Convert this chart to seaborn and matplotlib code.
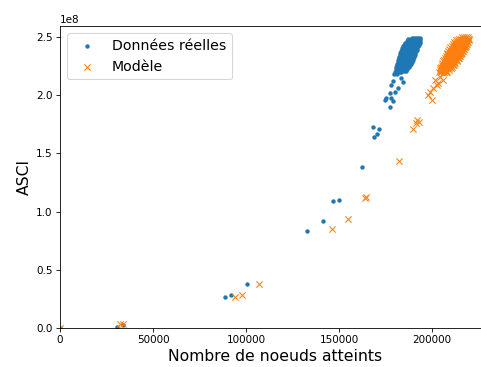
import matplotlib
matplotlib.use("Agg")
import matplotlib.pyplot as plt
import seaborn as sns
import pandas as pd

# Observed data, isolated runs: (nodes reached, ASCI in units of 1e8)
reel_x = [0, 30480, 34030, 88710, 91780, 100380, 132950, 141400, 146940, 150000,
          162200, 168280, 171500, 170160, 168550,
          174570, 175430, 178120, 177260, 177260, 179950, 178120, 181720, 179030,
          183490, 184410, 178820]
reel_y = [0.0, 0.011, 0.026, 0.264, 0.284, 0.378, 0.833, 0.919, 1.088, 1.102,
          1.381, 1.723, 1.705, 1.667, 1.641,
          1.959, 1.973, 1.973, 1.901, 2.016, 2.030, 2.088, 2.059, 2.122,
          2.145, 2.116, 1.950]

# Observed data, dense group of runs: one ASCI level per row with its node counts
reel_niveaux = [2.180, 2.195, 2.210, 2.225, 2.240, 2.255, 2.270, 2.285, 2.300,
                2.315, 2.330, 2.345, 2.360, 2.375, 2.390, 2.405, 2.420, 2.435,
                2.450, 2.465, 2.480, 2.495]
reel_noeuds = [
    [179800, 181000],
    [180200, 181400, 182600, 183500],
    [180400, 181600, 182800, 184000, 185200, 186000],
    [180700, 181900, 183100, 184300, 185500, 186700],
    [180900, 182100, 183300, 184500, 185700, 186900, 187800],
    [181200, 182400, 183600, 184800, 186000, 187200, 188300],
    [181400, 182600, 183800, 185000, 186200, 187400, 188700],
    [181700, 182900, 184100, 185300, 186500, 187700, 188900, 189300],
    [181900, 183100, 184300, 185500, 186700, 187900, 189100, 189700],
    [182200, 183400, 184600, 185800, 187000, 188200, 189400, 190000],
    [182400, 183600, 184800, 186000, 187200, 188400, 189600, 190300],
    [182700, 183900, 185100, 186300, 187500, 188700, 189900, 190600],
    [182900, 184100, 185300, 186500, 187700, 188900, 190100, 190900],
    [183300, 184500, 185700, 186900, 188100, 189300, 190500, 191400],
    [183600, 184800, 186000, 187200, 188400, 189600, 190800, 191900],
    [184100, 185300, 186500, 187700, 188900, 190100, 191300, 192200],
    [184500, 185700, 186900, 188100, 189300, 190500, 191700, 192600],
    [185100, 186300, 187500, 188700, 189900, 191100, 192300, 193000],
    [185600, 186800, 188000, 189200, 190400, 191600, 192800, 193300],
    [186400, 187600, 188800, 190000, 191200, 192400, 193500],
    [187300, 188500, 189700, 190900, 192100, 193300],
    [189000, 190200, 191400, 192600, 193300],
]

# Model predictions, isolated runs
modele_x = [0, 32260, 33710, 94090, 97690, 106990, 146400, 155000, 164510, 163810,
            182260, 189950, 191400, 193170, 191770,
            199840, 198920, 200690, 202520, 201610, 204300, 206070, 205210, 207900,
            209680, 203390, 206070, 197850]
modele_y = [0.0, 0.032, 0.032, 0.264, 0.284, 0.378, 0.851, 0.939, 1.128, 1.114,
            1.435, 1.707, 1.759, 1.772, 1.787,
            1.959, 2.027, 2.059, 2.088, 2.131, 2.159, 2.188, 2.216, 2.231,
            2.274, 2.102, 2.131, 2.003]

# Model predictions, dense group of runs
modele_niveaux = [2.200, 2.215, 2.230, 2.245, 2.260, 2.275, 2.290, 2.305, 2.320,
                  2.335, 2.350, 2.365, 2.380, 2.395, 2.410, 2.425, 2.440, 2.455,
                  2.470, 2.485, 2.500]
modele_noeuds = [
    [203800, 205000, 206200, 207400, 208000],
    [204100, 205300, 206500, 207700, 208900],
    [204500, 205700, 206900, 208100, 209300, 210000],
    [204800, 206000, 207200, 208400, 209600, 210800],
    [205200, 206400, 207600, 208800, 210000, 211200, 212000],
    [205600, 206800, 208000, 209200, 210400, 211600, 212600],
    [206000, 207200, 208400, 209600, 210800, 212000, 213200],
    [206400, 207600, 208800, 210000, 211200, 212400, 213600],
    [206900, 208100, 209300, 210500, 211700, 212900, 214100, 214300],
    [207300, 208500, 209700, 210900, 212100, 213300, 214500, 214800],
    [207800, 209000, 210200, 211400, 212600, 213800, 215000, 215500],
    [208300, 209500, 210700, 211900, 213100, 214300, 215500, 216000],
    [208800, 210000, 211200, 212400, 213600, 214800, 216000, 216700],
    [209300, 210500, 211700, 212900, 214100, 215300, 216500, 217200],
    [209900, 211100, 212300, 213500, 214700, 215900, 217100, 217800],
    [210500, 211700, 212900, 214100, 215300, 216500, 217700, 218300],
    [211100, 212300, 213500, 214700, 215900, 217100, 218300, 218800],
    [211800, 213000, 214200, 215400, 216600, 217800, 219000, 219300],
    [212800, 214000, 215200, 216400, 217600, 218800, 219700],
    [214300, 215500, 216700, 217900, 219100, 219900],
    [216000, 217200, 218400, 219600],
]


def to_frame(xs, ys, niveaux, noeuds):
    rows = [(x, y * 1e8) for x, y in zip(xs, ys)]
    for niveau, ligne in zip(niveaux, noeuds):
        rows.extend((x, niveau * 1e8) for x in ligne)
    return pd.DataFrame(rows, columns=["noeuds", "asci"])


df_reel = to_frame(reel_x, reel_y, reel_niveaux, reel_noeuds)
df_modele = to_frame(modele_x, modele_y, modele_niveaux, modele_noeuds)

fig = plt.figure(figsize=(481 / 75, 367 / 75), dpi=75)
ax = fig.add_axes([60 / 481, 39 / 367, 430 / 481, 302 / 367])

sns.scatterplot(data=df_reel, x="noeuds", y="asci", ax=ax, marker="o",
                s=18, color="#1f77b4", linewidth=0, label="Données réelles")
sns.scatterplot(data=df_modele, x="noeuds", y="asci", ax=ax, marker="x",
                s=36, color="#ff7f0e", linewidth=1.0, label="Modèle")

ax.set_xlim(0, 231180)
ax.set_ylim(0, 2.594e8)
ax.set_xticks([0, 50000, 100000, 150000, 200000])
ax.set_yticks([0, 0.5e8, 1.0e8, 1.5e8, 2.0e8, 2.5e8])
ax.tick_params(labelsize=10)
ax.set_xlabel("Nombre de noeuds atteints", fontsize=15)
ax.set_ylabel("ASCI", fontsize=15)
ax.legend(loc="upper left", fontsize=13.5)

fig.savefig("out.png", dpi=75)
